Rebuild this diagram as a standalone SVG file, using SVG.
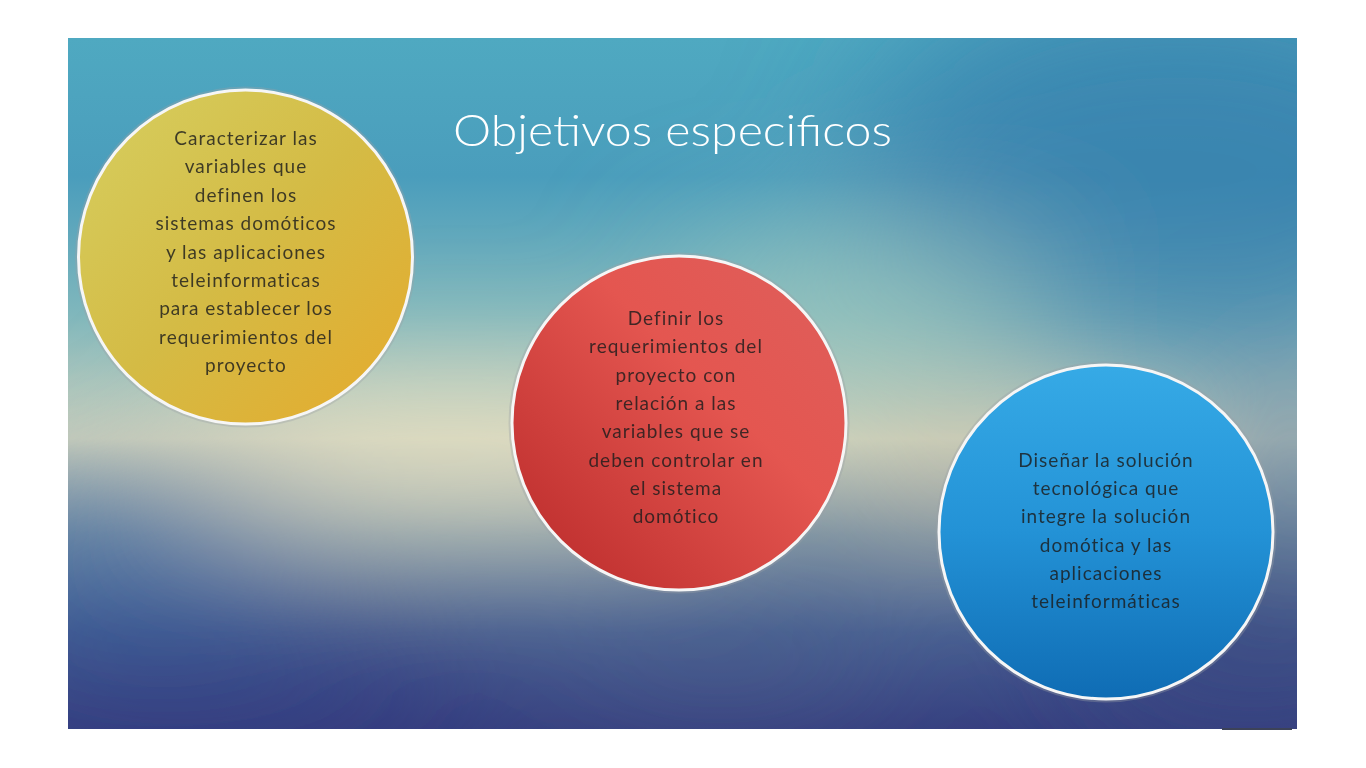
<svg xmlns="http://www.w3.org/2000/svg" width="1366" height="768" viewBox="0 0 1366 768">
<defs>
<linearGradient id="bg" x1="0" y1="0" x2="0" y2="1">
<stop offset="0" stop-color="#4fa9c1"/>
<stop offset="0.2" stop-color="#4a9dbc"/>
<stop offset="0.4" stop-color="#80b7bc"/>
<stop offset="0.58" stop-color="#cdd2bd"/>
<stop offset="0.72" stop-color="#7c93a4"/>
<stop offset="0.86" stop-color="#465f92"/>
<stop offset="1" stop-color="#363f80"/>
</linearGradient>
<filter id="blur" x="-50%" y="-50%" width="200%" height="200%">
<feGaussianBlur stdDeviation="70"/>
</filter>
<clipPath id="slide"><rect x="68" y="38" width="1229" height="691"/></clipPath>
<linearGradient id="gy" x1="0" y1="0" x2="1" y2="1">
<stop offset="0" stop-color="#d6cf60"/>
<stop offset="0.5" stop-color="#d4bb45"/>
<stop offset="1" stop-color="#e6aa2c"/>
</linearGradient>
<linearGradient id="gr" x1="1" y1="0" x2="0" y2="1">
<stop offset="0" stop-color="#de5f5c"/>
<stop offset="0.4" stop-color="#e45650"/>
<stop offset="1" stop-color="#b82828"/>
</linearGradient>
<linearGradient id="gb" x1="0" y1="0" x2="0" y2="1">
<stop offset="0" stop-color="#36aae6"/>
<stop offset="0.5" stop-color="#2392d6"/>
<stop offset="1" stop-color="#0f6cb4"/>
</linearGradient>
<style>
.ring{stroke:#f6f6f6;stroke-width:3}
.halo{fill:none;stroke:#9aa0a6;stroke-width:5;stroke-opacity:0.35}
.t{font-family:Lato,"Liberation Sans",sans-serif;font-size:19px;letter-spacing:1px;fill:#1c1c1c;fill-opacity:0.82;text-anchor:middle}
.title{font-family:Lato,"Liberation Sans",sans-serif;font-size:44px;font-weight:300;fill:#ffffff}
</style>
</defs>
<rect width="1366" height="768" fill="#ffffff"/>
<g clip-path="url(#slide)">
<rect x="68" y="38" width="1229" height="691" fill="url(#bg)"/>
<g filter="url(#blur)">
<ellipse cx="1180" cy="170" rx="320" ry="190" fill="#357aaa" opacity="0.7"/>
<ellipse cx="460" cy="455" rx="280" ry="65" fill="#e6dfc2" opacity="0.85"/>
<ellipse cx="860" cy="300" rx="200" ry="60" fill="#b0d4c0" opacity="0.6"/>
<ellipse cx="140" cy="560" rx="200" ry="60" fill="#3e6ea8" opacity="0.7"/>
<ellipse cx="960" cy="470" rx="120" ry="50" fill="#c8b8a0" opacity="0.6"/>
<ellipse cx="1300" cy="470" rx="100" ry="90" fill="#6a8aa4" opacity="0.8"/>
<ellipse cx="1250" cy="650" rx="200" ry="100" fill="#3a4680" opacity="0.8"/>
<ellipse cx="200" cy="700" rx="300" ry="60" fill="#343c80" opacity="0.8"/>
<ellipse cx="720" cy="660" rx="200" ry="50" fill="#58688e" opacity="0.5"/>
</g>
</g>
<rect x="1222" y="728" width="70" height="2" fill="#3c4258"/>

<g id="title">
<text class="title" x="453" y="146" textLength="439" lengthAdjust="spacingAndGlyphs">Objetivos especificos</text>
</g>

<g id="node-caracterizar">
<circle class="halo" cx="245.5" cy="257" r="168"/>
<circle class="ring" cx="245.5" cy="257" r="167" fill="url(#gy)"/>
<text class="t" x="246" y="145">Caracterizar las</text>
<text class="t" x="246" y="173.4">variables que</text>
<text class="t" x="246" y="201.8">definen los</text>
<text class="t" x="246" y="230.2">sistemas domóticos</text>
<text class="t" x="246" y="258.6">y las aplicaciones</text>
<text class="t" x="246" y="287">teleinformaticas</text>
<text class="t" x="246" y="315.4">para establecer los</text>
<text class="t" x="246" y="343.8">requerimientos del</text>
<text class="t" x="246" y="372.2">proyecto</text>
</g>

<g id="node-definir">
<circle class="halo" cx="679" cy="423" r="168"/>
<circle class="ring" cx="679" cy="423" r="167" fill="url(#gr)"/>
<text class="t" x="676" y="325">Definir los</text>
<text class="t" x="676" y="353.3">requerimientos del</text>
<text class="t" x="676" y="381.6">proyecto con</text>
<text class="t" x="676" y="409.9">relación a las</text>
<text class="t" x="676" y="438.2">variables que se</text>
<text class="t" x="676" y="466.5">deben controlar en</text>
<text class="t" x="676" y="494.8">el sistema</text>
<text class="t" x="676" y="523.1">domótico</text>
</g>

<g id="node-disenar">
<circle class="halo" cx="1106" cy="532" r="168"/>
<circle class="ring" cx="1106" cy="532" r="167" fill="url(#gb)"/>
<text class="t" x="1106" y="467">Diseñar la solución</text>
<text class="t" x="1106" y="495.2">tecnológica que</text>
<text class="t" x="1106" y="523.4">integre la solución</text>
<text class="t" x="1106" y="551.6">domótica y las</text>
<text class="t" x="1106" y="579.8">aplicaciones</text>
<text class="t" x="1106" y="608">teleinformáticas</text>
</g>

<g id="connectors"/>
</svg>
